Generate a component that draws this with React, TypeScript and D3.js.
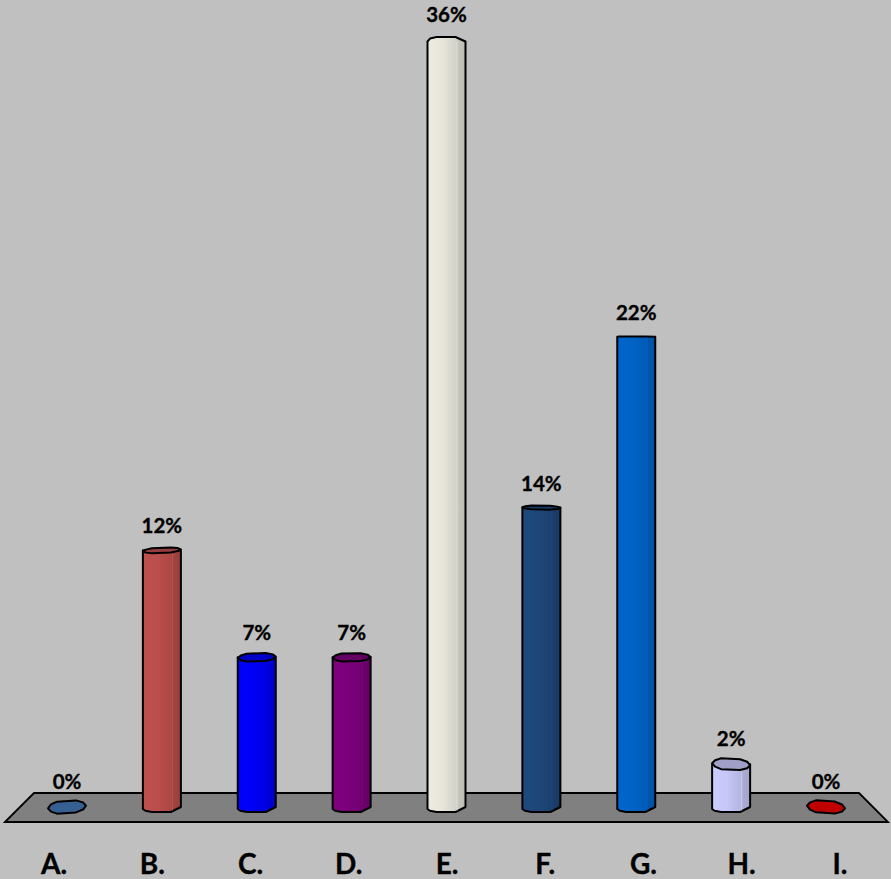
import React from 'react';
import * as d3 from 'd3';

const categories = ['A.', 'B.', 'C.', 'D.', 'E.', 'F.', 'G.', 'H.', 'I.'];
const values = [0, 12, 7, 7, 36, 14, 22, 2, 0];
const colors = ['#376092', '#C0504D', '#0000FF', '#800080', '#EEECE1', '#1F497D', '#0066CC', '#CCCCFF', '#C00000'];

const width = 891;
const height = 879;
const barWidth = 38;

const xBar = d3.scalePoint<string>().domain(categories).range([67, 826]);
const xLabel = d3.scaleBand<string>().domain(categories).range([5, 889]);
const y = d3.scaleLinear().domain([0, 36]).range([807, 37]);
const labelGap = d3.scaleLinear().domain([37, 807]).range([15, 18]);

// how much of the top ellipse shows, goes negative above the eye line
const capDepth = d3.scaleLinear().domain([366, 807]).range([0, 6]);

const line = d3.line();

function shade(color: string, k: number) {
  const c = d3.rgb(color);
  return d3.rgb(c.r * k, c.g * k, c.b * k).formatHex();
}

function Bar({ cat, value, color, i }: { cat: string; value: number; color: string; i: number }) {
  const cx = xBar(cat) as number;
  const x0 = cx - barWidth / 2;
  const x1 = cx + barWidth / 2;
  const top = y(value);
  const base = y(0) + 5;
  const depth = capDepth(top);
  const tilt = (1.25 * (cx - 447)) / 380;
  const tiltAt = (px: number) => ((px - cx) / (barWidth / 2)) * tilt;
  const a = x0 + 9;
  const b = x0 + 28;

  const capPts: [number, number][] = [
    [x0, top + tiltAt(x0)],
    [x0 + 3, top - depth * 0.6 + tiltAt(x0 + 3)],
    [a, top - depth + tiltAt(a)],
    [b, top - depth + tiltAt(b)],
    [x1 - 3, top - depth * 0.6 + tiltAt(x1 - 3)],
    [x1, top + tiltAt(x1)],
    [x1 - 3, top + depth * 0.6 + tiltAt(x1 - 3)],
    [b, top + depth + tiltAt(b)],
    [a, top + depth + tiltAt(a)],
    [x0 + 3, top + depth * 0.6 + tiltAt(x0 + 3)],
  ];

  const bottomPts: [number, number][] = [
    [x1, base - 5],
    [b, base],
    [a, base],
    [x0 + 2.5, base - 1.2],
    [x0, base - 3],
  ];

  const shoulder = depth < 0 ? -depth : 0;
  const bodyPts: [number, number][] =
    depth < 0
      ? [
          [x0, top + shoulder],
          [x0 + 2.5, top + shoulder * 0.35],
          [a, top],
          [b, top],
          [x1, top + shoulder],
          ...bottomPts,
        ]
      : [[x0, top], [x1, top], ...bottomPts];

  return (
    <g>
      {value > 0 && (
        <>
          <path d={line(bodyPts) + 'Z'} fill={`url(#bar-${i})`} stroke="#000" strokeWidth={2} strokeLinejoin="round" />
          <line x1={x0 + barWidth * 0.78} x2={x0 + barWidth * 0.78} y1={top + Math.abs(depth)} y2={base - 1} stroke={shade(color, 1.15)} strokeOpacity={0.5} strokeWidth={0.8} />
        </>
      )}
      {depth >= 0 && (
        <path d={line(capPts) + 'Z'} fill={value > 0 ? shade(color, 0.78) : color} stroke="#000" strokeWidth={2} strokeLinejoin="round" />
      )}
    </g>
  );
}

export default function App() {
  return (
    <svg width={width} height={height} style={{ position: 'absolute', left: 0, top: 0, display: 'block' }}>
      <defs>
        {colors.map((c, i) => (
          <linearGradient key={i} id={`bar-${i}`} x1="0" x2="1" y1="0" y2="0">
            <stop offset="0" stopColor={shade(c, 1)} />
            <stop offset="0.4" stopColor={shade(c, 0.97)} />
            <stop offset="0.78" stopColor={shade(c, 0.88)} />
            <stop offset="0.78" stopColor={shade(c, 0.84)} />
            <stop offset="1" stopColor={shade(c, 0.8)} />
          </linearGradient>
        ))}
      </defs>
      <rect width={width} height={height} fill="#C0C0C0" />
      <polygon points="5,822 34,793 859,793 888,822" fill="#808080" stroke="#000" strokeWidth={1.8} />
      {categories.map((cat, i) => (
        <Bar key={cat} cat={cat} value={values[i]} color={colors[i]} i={i} />
      ))}
      <g fontFamily="Lato, sans-serif" fontWeight={700} fill="#000" stroke="#000" strokeWidth={0.35} textAnchor="middle">
        {categories.map((cat, i) => (
          <text key={cat} x={xBar(cat)} y={y(values[i]) - labelGap(y(values[i]))} fontSize={20.5}>
            {values[i]}%
          </text>
        ))}
        {categories.map((cat) => (
          <text key={cat} x={(xLabel(cat) as number) + xLabel.bandwidth() / 2} y={874} fontSize={28}>
            {cat}
          </text>
        ))}
      </g>
    </svg>
  );
}
